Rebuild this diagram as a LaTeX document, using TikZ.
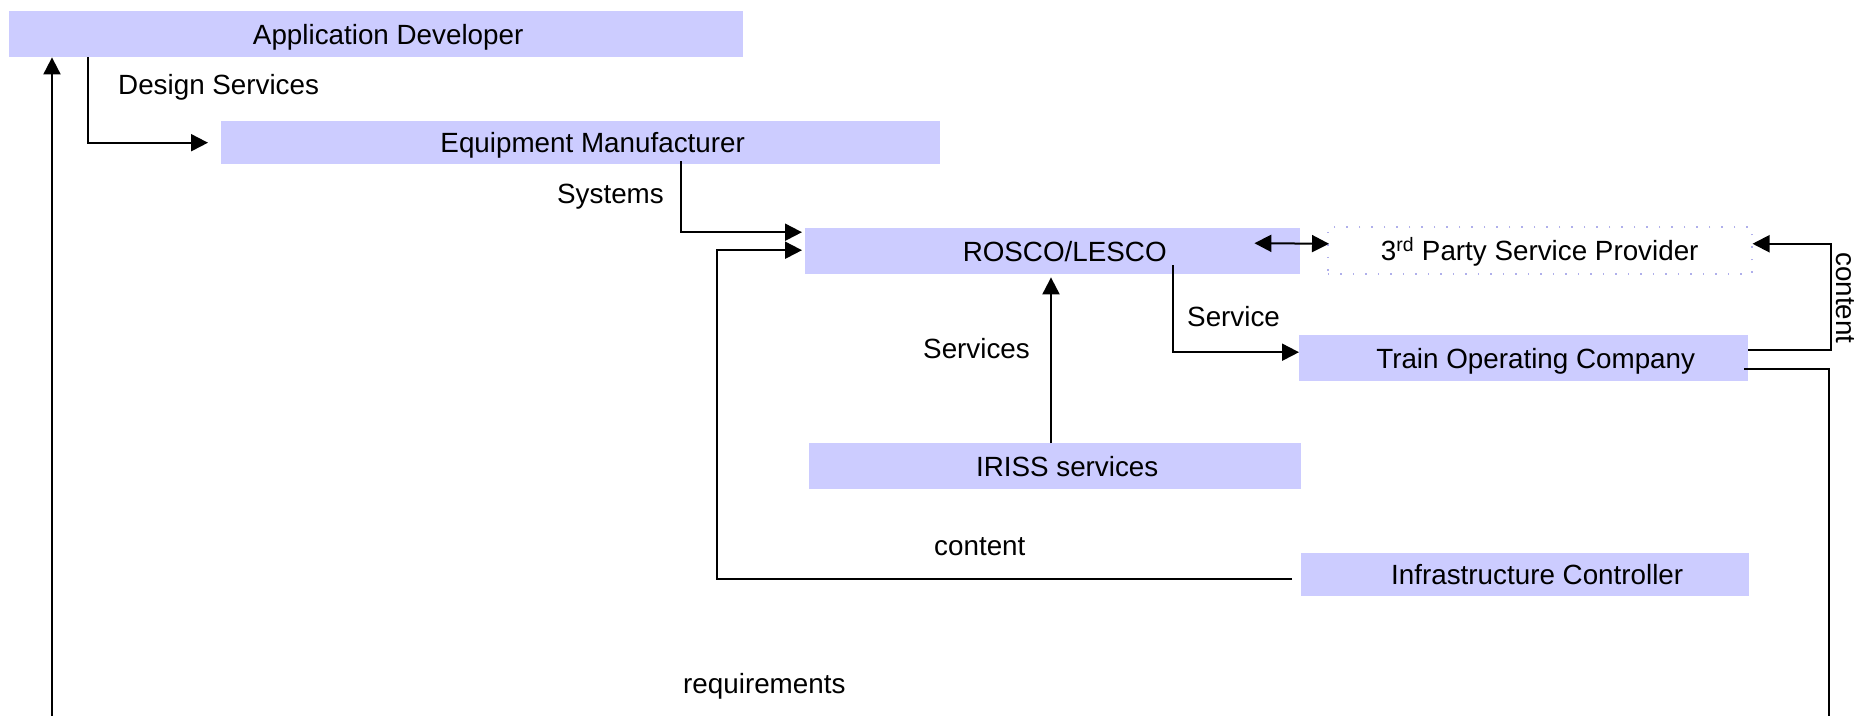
\documentclass[tikz,border=0pt]{standalone}
\usepackage{fontspec}
\setmainfont{Liberation Sans}
\usetikzlibrary{arrows.meta}
\definecolor{boxfill}{RGB}{204,204,255}
\definecolor{dotcol}{RGB}{175,175,235}
\tikzset{
  every node/.style={font=\fontsize{27.8}{30}\selectfont},
  boxnode/.style={fill=boxfill, draw=none, inner sep=0pt, anchor=north west,
    text height=20pt, text depth=0pt, execute at begin node={\hspace*{24pt}}},
  dotbox/.style={fill=none, inner sep=0pt, anchor=north west, text height=20pt, text depth=0pt,
    draw=dotcol, line width=1.5pt, dash pattern=on 1.5pt off 11pt},
  lbl/.style={inner sep=0pt, anchor=base west},
  conn/.style={line width=2pt, black},
  arr/.style={conn, -{Triangle[length=17pt,width=17pt]}},
  arrtwo/.style={conn, {Triangle[length=17pt,width=17pt]}-{Triangle[length=17pt,width=17pt]}},
}
\begin{document}
\begin{tikzpicture}[x=1pt,y=-1pt]
\useasboundingbox (0,0) rectangle (1858,715);
\clip (0,0) rectangle (1858,715);

% boxes
\node[boxnode, minimum width=734pt, minimum height=46pt] (app) at (9,11) {Application Developer};
\node[boxnode, minimum width=719pt, minimum height=43pt] (em) at (221,121) {Equipment Manufacturer};
\node[boxnode, minimum width=495pt, minimum height=46pt] (rosco) at (805,228) {ROSCO/LESCO};
\node[dotbox, minimum width=424pt, minimum height=47pt] (third) at (1327,226) {3\textsuperscript{rd} Party Service Provider};
\node[boxnode, minimum width=449pt, minimum height=46pt] (toc) at (1299,335) {Train Operating Company};
\node[boxnode, minimum width=492pt, minimum height=46pt] (iriss) at (809,443) {IRISS services};
\node[boxnode, minimum width=448pt, minimum height=43pt] (infra) at (1301,553) {Infrastructure Controller};

% labels
\node[lbl] (ldesign) at (118,94) {Design Services};
\node[lbl] (lsystems) at (557,203) {Systems};
\node[lbl] (lservice) at (1187,326) {Service};
\node[lbl] (lservices) at (923,358) {Services};
\node[lbl] (lcontent) at (934,555) {content};
\node[lbl] (lreq) at (683,693) {requirements};
\node[lbl, rotate=-90] (lcontent2) at (1836,252) {content};

% connectors
\draw[arr, shorten >=13pt] ([xshift=79pt]app.south west) |- (em.west);
\draw[arr, shorten >=3pt] ([xshift=460pt,yshift=3pt]em.south west) |- ([yshift=19pt]rosco.west);
\draw[arr, shorten >=3pt] ([xshift=-9pt,yshift=-4.5pt]infra.west) -| ([xshift=-88pt,yshift=1pt]rosco.west) -- ([yshift=1pt]rosco.west);
\coordinate (sv) at ([xshift=242pt]iriss.north west);
\draw[arr, shorten >=3pt] (sv) -- (sv |- rosco.south);
\draw[arr] ([xshift=368pt,yshift=9pt]rosco.south west) |- ([yshift=6pt]toc.west);
\draw[arrtwo] ([xshift=-46pt,yshift=8pt]rosco.east) -- ([xshift=2pt,yshift=6.5pt]third.west);
\draw[arr] ([yshift=8pt]toc.east) -| ([xshift=78pt,yshift=6.5pt]third.east) -- ([yshift=6.5pt]third.east);
\coordinate (rb) at (1829,760);
\draw[arr] ([xshift=-4pt,yshift=-11pt]toc.east) -| (rb) -| ([xshift=43pt]app.south west);
\end{tikzpicture}
\end{document}
